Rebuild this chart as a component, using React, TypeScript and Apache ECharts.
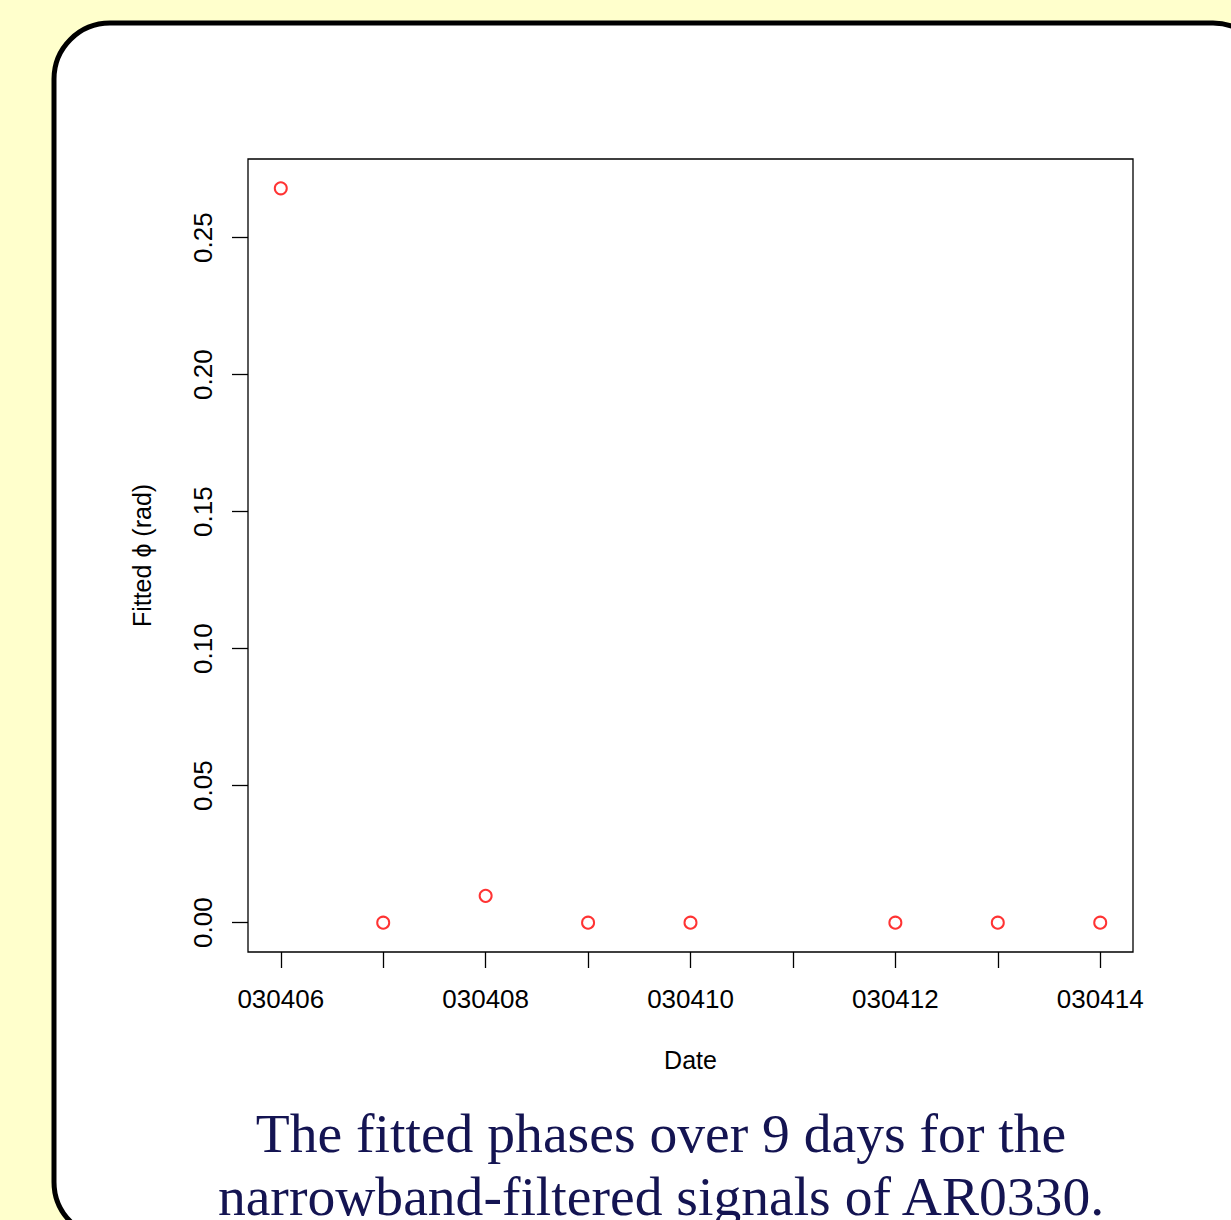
import React, { useEffect, useRef } from "react";
import * as echarts from "echarts";

// Days of April 2003 (030406 ... 030414)
const days: number[] = [6, 7, 8, 9, 10, 12, 13, 14];
const phases: number[] = [0.268, 0, 0.0098, 0, 0, 0, 0, 0];
const xTickDays: number[] = [6, 7, 8, 9, 10, 11, 12, 13, 14];
const xLabelDays: number[] = [6, 8, 10, 12, 14];
const yTicks: number[] = [0, 0.05, 0.1, 0.15, 0.2, 0.25];
const captionLines: string[] = [
  "The fitted phases over 9 days for the",
  "narrowband-filtered signals of AR0330.",
];

const fmtDate = (v: number) => "0304" + String(Math.round(v)).padStart(2, "0");

export default function App() {
  const ref = useRef<HTMLDivElement>(null);
  useEffect(() => {
    document.body.style.margin = "0";
    const chart = echarts.init(ref.current!, null, { renderer: "svg" });
    const sans = "Liberation Sans, Arial, sans-serif";
    const option: any = {
      animation: false,
      backgroundColor: "#ffffcc",
      graphic: [
        {
          type: "rect",
          z: -10,
          silent: true,
          shape: { x: 54, y: 23, width: 1215, height: 1215, r: 56 },
          style: { fill: "#ffffff", stroke: "#000000", lineWidth: 5 },
        },
        ...captionLines.map((t, i) => ({
          type: "text",
          x: 661,
          y: 1133 + i * 63,
          z: 10,
          style: {
            text: t,
            font: "55.6px 'Liberation Serif', serif",
            fill: "#141452",
            align: "center",
            verticalAlign: "middle",
          },
        })),
      ],
      grid: {
        left: 248,
        top: 159,
        width: 885,
        height: 793,
        show: true,
        borderColor: "#000000",
        borderWidth: 1.3,
        backgroundColor: "transparent",
      },
      xAxis: {
        type: "value",
        min: 5.68,
        max: 14.32,
        name: "Date",
        nameLocation: "middle",
        nameGap: 95,
        nameTextStyle: { fontFamily: sans, fontSize: 25, color: "#000" },
        axisLine: { show: false, onZero: false },
        splitLine: { show: false },
        axisTick: {
          show: true,
          customValues: xTickDays,
          length: 16,
          lineStyle: { color: "#000", width: 1.3 },
        },
        axisLabel: {
          customValues: xLabelDays,
          formatter: (v: number) => fmtDate(v),
          fontFamily: sans,
          fontSize: 26,
          color: "#000",
          margin: 34,
        },
      },
      yAxis: {
        type: "value",
        min: -0.0107,
        max: 0.2787,
        name: "Fitted ϕ (rad)",
        nameLocation: "middle",
        nameGap: 94,
        nameRotate: 90,
        nameTextStyle: { fontFamily: sans, fontSize: 25, color: "#000" },
        axisLine: { show: false, onZero: false },
        splitLine: { show: false },
        axisTick: {
          show: true,
          customValues: yTicks,
          length: 16,
          lineStyle: { color: "#000", width: 1.3 },
        },
        axisLabel: {
          customValues: yTicks,
          formatter: (v: number) => v.toFixed(2),
          rotate: 90,
          fontFamily: sans,
          fontSize: 26,
          color: "#000",
          margin: 32,
        },
      },
      series: [
        {
          type: "scatter",
          data: days.map((d, i) => [d, phases[i]]),
          symbol: "emptyCircle",
          symbolSize: 12,
          itemStyle: { color: "#ff0000", borderWidth: 1.6 },
        },
      ],
    };
    chart.setOption(option);
    return () => chart.dispose();
  }, []);
  return <div ref={ref} style={{ width: 1231, height: 1220 }} />;
}
